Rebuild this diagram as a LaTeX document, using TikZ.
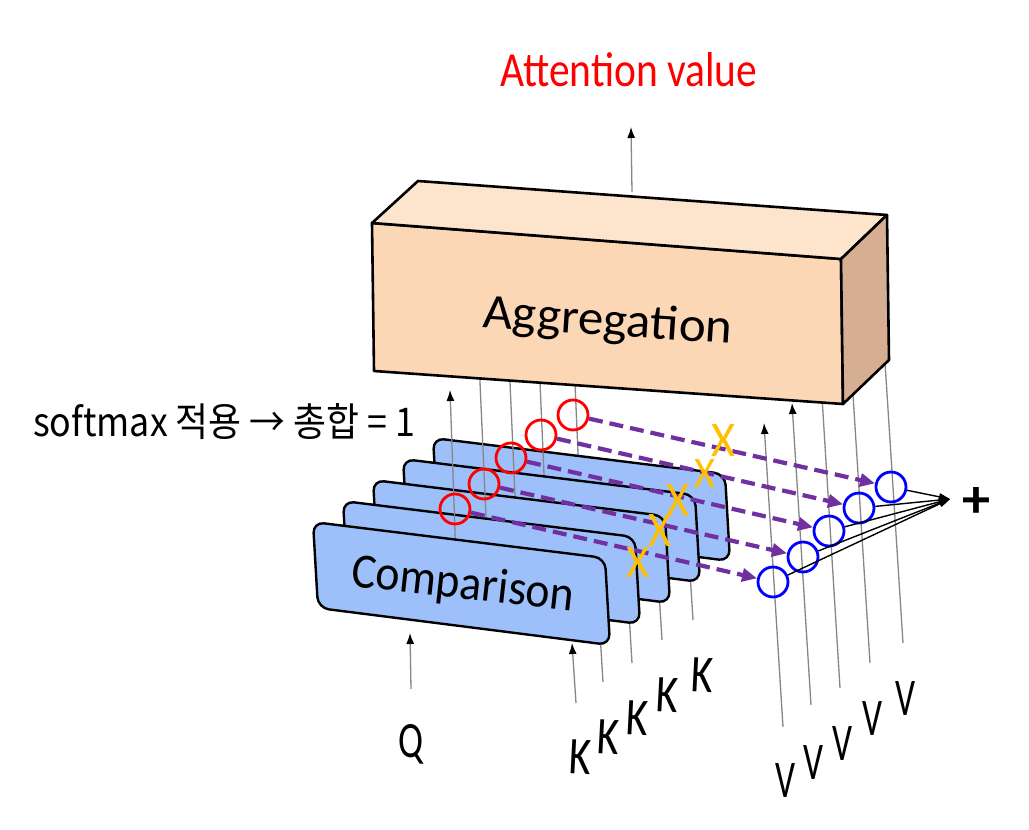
\documentclass[tikz,border=0pt]{standalone}
\usepackage{fontspec}
\usepackage{graphicx}
\setmainfont{Carlito}
\newfontfamily\krfont{Noto Sans CJK KR}
\usetikzlibrary{arrows.meta,calc}
\definecolor{linegray}{RGB}{135,135,135}
\definecolor{cardblue}{RGB}{158,192,250}
\definecolor{boxfront}{RGB}{252,215,182}
\definecolor{boxtop}{RGB}{253,228,204}
\definecolor{boxside}{RGB}{214,174,146}
\definecolor{dpurple}{RGB}{112,48,160}
\definecolor{xgold}{RGB}{255,192,0}
\begin{document}
\begin{tikzpicture}[x=1pt,y=-1pt,
  grayline/.style={draw=linegray, line width=1.3pt},
  grayarrow/.style={grayline, -{Latex[length=11pt,width=8pt,color=black]}},
  cardbox/.style={draw=black, line width=2.4pt, fill=cardblue, rounded corners=11pt, line join=round},
  boxedge/.style={draw=black, line width=2.6pt, line join=round},
  redc/.style={circle, draw=red, line width=2.8pt, minimum size=30pt, inner sep=0pt},
  bluec/.style={circle, draw=blue, line width=2.8pt, minimum size=30pt, inner sep=0pt},
  dasharrow/.style={draw=dpurple, line width=4.2pt, dash pattern=on 14pt off 7pt, -{Triangle[length=15pt,width=13pt]}},
  sumarrow/.style={draw=black, line width=1.4pt, -{Triangle[length=11pt,width=7pt]}},
  lbl/.style={inner sep=0pt},
  xmark/.style={inner sep=0pt, text=xgold}]
\useasboundingbox (0,0) rectangle (1029,830);
\fill[white] (0,0) rectangle (1029,830);

% top arrow
\coordinate (outS) at (632,192);
\coordinate (outE) at (631,127);
\draw[grayarrow] (outS) -- (outE);

% V lines
\coordinate (v1s) at (783,727); \coordinate (v1e) at (764,423);
\coordinate (v2s) at (811,705); \coordinate (v2e) at (792,403);
\coordinate (v3s) at (840,688); \coordinate (v3e) at (816,300);
\coordinate (v4s) at (870,663); \coordinate (v4e) at (847,300);
\coordinate (v5s) at (903,643); \coordinate (v5e) at (881,300);
\draw[grayarrow] (v1s) -- (v1e);
\draw[grayarrow] (v2s) -- (v2e);
\draw[grayline] (v3s) -- (v3e);
\draw[grayline] (v4s) -- (v4e);
\draw[grayline] (v5s) -- (v5e);

% K lines
\coordinate (k1s) at (576,703); \coordinate (k1e) at (572,643);
\coordinate (k2s) at (603,682); \coordinate (k2e) at (598,600);
\coordinate (k3s) at (632,663); \coordinate (k3e) at (627,580);
\coordinate (k4s) at (662,640); \coordinate (k4e) at (657,560);
\coordinate (k5s) at (693,620); \coordinate (k5e) at (688,540);
\draw[grayarrow] (k1s) -- (k1e);
\draw[grayline] (k2s) -- (k2e);
\draw[grayline] (k3s) -- (k3e);
\draw[grayline] (k4s) -- (k4e);
\draw[grayline] (k5s) -- (k5e);

% Q arrow
\coordinate (qs) at (411,689); \coordinate (qe) at (410,633);
\draw[grayarrow] (qs) -- (qe);

% comparison outputs and cards (back to front)
\coordinate (o5s) at (579,476); \coordinate (o5e) at (574,360);
\coordinate (o4s) at (545,497); \coordinate (o4e) at (539,360);
\coordinate (o3s) at (516,518); \coordinate (o3e) at (509,360);
\coordinate (o2s) at (487,539); \coordinate (o2e) at (479,360);
\coordinate (o1s) at (456,560); \coordinate (o1e) at (450,390);

\draw[grayline] (o5s) -- (o5e);
\begin{scope}[shift={(120,-84)}]
\draw[cardbox] (459,540) -- (605,558) -- (610,645) -- (318,608) -- (313,522) -- cycle;
\end{scope}
\draw[grayline] (o4s) -- (o4e);
\begin{scope}[shift={(90,-63)}]
\draw[cardbox] (459,540) -- (605,558) -- (610,645) -- (318,608) -- (313,522) -- cycle;
\end{scope}
\draw[grayline] (o3s) -- (o3e);
\begin{scope}[shift={(60,-42)}]
\draw[cardbox] (459,540) -- (605,558) -- (610,645) -- (318,608) -- (313,522) -- cycle;
\end{scope}
\draw[grayline] (o2s) -- (o2e);
\begin{scope}[shift={(30,-21)}]
\draw[cardbox] (459,540) -- (605,558) -- (610,645) -- (318,608) -- (313,522) -- cycle;
\end{scope}
\draw[grayarrow] (o1s) -- (o1e);
\draw[cardbox] (459,540) -- (605,558) -- (610,645) -- (318,608) -- (313,522) -- cycle;
\node[lbl, anchor=base west, rotate=-6.4] (comp) at (350,586) {\resizebox{224pt}{34pt}{Comparison}};

% aggregation box
\coordinate (fTL) at (372,223); \coordinate (fTR) at (841,259);
\coordinate (fBR) at (843,404); \coordinate (fBL) at (374,371);
\coordinate (bTL) at (418,181); \coordinate (bTR) at (887,215);
\coordinate (bBR) at (889,360);
\draw[boxedge, fill=boxfront] (fTL) -- (fTR) -- (fBR) -- (fBL) -- cycle;
\draw[boxedge, fill=boxtop] (fTL) -- (bTL) -- (bTR) -- (fTR) -- cycle;
\draw[boxedge, fill=boxside] (fTR) -- (bTR) -- (bBR) -- (fBR) -- cycle;
\node[lbl, anchor=base west, rotate=-3.8] (agg) at (482,327) {\resizebox{250pt}{34pt}{Aggregation}};

\node[lbl, anchor=base west] (att) at (500,86) {\resizebox{257pt}{34pt}{\color{red}Attention value}};

% circles
\node[redc] (r1) at (455,509) {};
\node[redc] (r2) at (484,484) {};
\node[redc] (r3) at (511,458) {};
\node[redc] (r4) at (541,435) {};
\node[redc] (r5) at (573,415) {};
\node[bluec] (b1) at (773,582) {};
\node[bluec] (b2) at (803,557) {};
\node[bluec] (b3) at (829,531) {};
\node[bluec] (b4) at (859,508) {};
\node[bluec] (b5) at (891,487) {};

\draw[dasharrow] (r1) -- (b1);
\draw[dasharrow] (r2) -- (b2);
\draw[dasharrow] (r3) -- (b3);
\draw[dasharrow] (r4) -- (b4);
\draw[dasharrow] (r5) -- (b5);

\node[xmark] (x1) at (638,562) {\resizebox{23pt}{30pt}{X}};
\node[xmark] (x2) at (660,530) {\resizebox{23pt}{32pt}{X}};
\node[xmark] (x3) at (678,500) {\resizebox{23pt}{32pt}{X}};
\node[xmark] (x4) at (705,473) {\resizebox{21pt}{28pt}{X}};
\node[xmark] (x5) at (723,440) {\resizebox{24pt}{32pt}{X}};

\coordinate (sum) at (950,499);
\draw[sumarrow] (b1) -- (sum);
\draw[sumarrow] (b2) -- (sum);
\draw[sumarrow] (b3) -- (sum);
\draw[sumarrow] (b4) -- (sum);
\draw[sumarrow] (b5) -- (sum);
\node[lbl] (plus) at (976,502) {\resizebox{28pt}{30pt}{\bfseries +}};

\node[lbl, anchor=base west] (soft) at (33,436) {\resizebox{382pt}{33pt}{\krfont softmax 적용 → 총합 = 1}};

% labels
\node[lbl, anchor=base] (Q) at (411,757) {\resizebox{25pt}{33pt}{Q}};
\node[lbl, rotate=-3] (K1) at (580,757) {\resizebox{22pt}{34pt}{K}};
\node[lbl, rotate=-3] (K2) at (608,737) {\resizebox{22pt}{34pt}{K}};
\node[lbl, rotate=-3] (K3) at (637,718) {\resizebox{22pt}{34pt}{K}};
\node[lbl, rotate=-3] (K4) at (667,695) {\resizebox{22pt}{34pt}{K}};
\node[lbl, rotate=-3] (K5) at (702,675) {\resizebox{22pt}{34pt}{K}};
\node[lbl] (V1) at (785,780) {\resizebox{20pt}{34pt}{V}};
\node[lbl] (V2) at (813,762) {\resizebox{20pt}{34pt}{V}};
\node[lbl] (V3) at (842,743) {\resizebox{20pt}{34pt}{V}};
\node[lbl] (V4) at (872,718) {\resizebox{20pt}{34pt}{V}};
\node[lbl] (V5) at (905,698) {\resizebox{20pt}{34pt}{V}};
\end{tikzpicture}
\end{document}
